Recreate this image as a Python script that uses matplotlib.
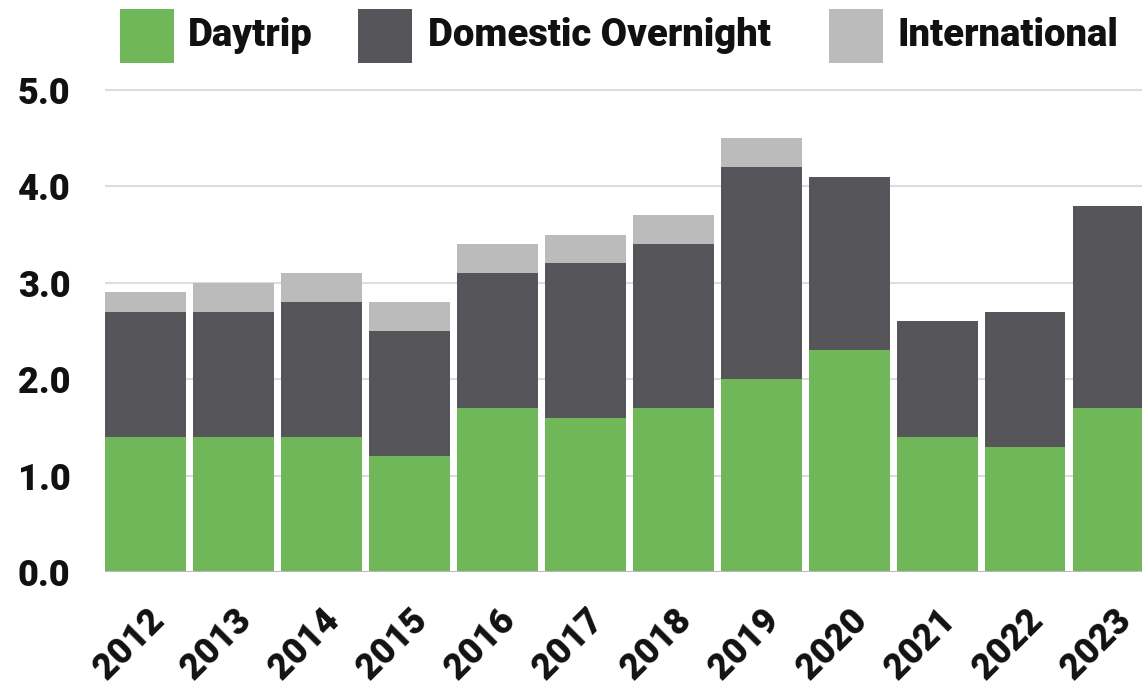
import matplotlib
matplotlib.use("Agg")
import matplotlib.pyplot as plt
import matplotlib.transforms as mtransforms
from matplotlib.patches import Rectangle
import numpy as np

years = ["2012", "2013", "2014", "2015", "2016", "2017", "2018", "2019", "2020", "2021", "2022", "2023"]
daytrip = [1.4, 1.4, 1.4, 1.2, 1.7, 1.6, 1.7, 2.0, 2.3, 1.4, 1.3, 1.7]
domestic_overnight = [1.3, 1.3, 1.4, 1.3, 1.4, 1.6, 1.7, 2.2, 1.8, 1.2, 1.4, 2.1]
international = [0.2, 0.3, 0.3, 0.3, 0.3, 0.3, 0.3, 0.3, 0.0, 0.0, 0.0, 0.0]
series_names = ["Daytrip", "Domestic Overnight", "International"]
y_ticks = [0.0, 1.0, 2.0, 3.0, 4.0, 5.0]

colors = ["#70B75A", "#56555A", "#BBBBBB"]

plt.rcParams["font.family"] = ["Roboto", "DejaVu Sans"]
FW = 900

W, H = 1142, 688
fig = plt.figure(figsize=(W / 100, H / 100), dpi=100)
ax_left = 105 / W
ax_bottom = (H - 572) / H
ax_top = (H - 61) / H
ax = fig.add_axes([ax_left, ax_bottom, 1 - ax_left, ax_top - ax_bottom])

x = np.arange(len(years))
width = 0.92
bottom = np.zeros(len(years))
for vals, col in zip([daytrip, domestic_overnight, international], colors):
    v = np.array(vals)
    ax.bar(x, v, width, bottom=bottom, color=col, linewidth=0, zorder=3)
    bottom = bottom + v

ax.set_xlim(-0.46, 11.33)
ax.set_ylim(0, 5.3)
ax.set_yticks(y_ticks)
ax.set_yticklabels([f"{t:.1f}" for t in y_ticks], fontsize=26, fontweight=FW, color="#111111")
ax.tick_params(axis="y", length=0, pad=25)
ax.set_xticks(x)
ax.set_xticklabels(years, rotation=45, ha="right", va="center", rotation_mode="anchor", fontsize=26,
                   fontweight=FW, color="#111111")
ax.tick_params(axis="x", length=0, pad=31)
offset = mtransforms.ScaledTranslation(13 / 100, 0, fig.dpi_scale_trans)
for lab in ax.get_xticklabels():
    lab.set_transform(lab.get_transform() + offset)

for s in ax.spines.values():
    s.set_visible(False)
ax.grid(axis="y", color="#DDDDDD", linewidth=1.5, zorder=0)
ax.axhline(0, color="#BBBBBB", linewidth=1.5, zorder=4)

# legend
sq = 54
legend_items = [(120, 188), (358, 428), (829, 897)]
for (sx, tx), name, col in zip(legend_items, series_names, colors):
    fig.patches.append(Rectangle((sx / W, (H - 63) / H), sq / W, sq / H, transform=fig.transFigure,
                                 facecolor=col, edgecolor="none"))
    fig.text(tx / W, (H - 36) / H, name, fontsize=27.5, fontweight=FW, color="#111111",
             ha="left", va="center")

fig.savefig("out.png", dpi=100)
